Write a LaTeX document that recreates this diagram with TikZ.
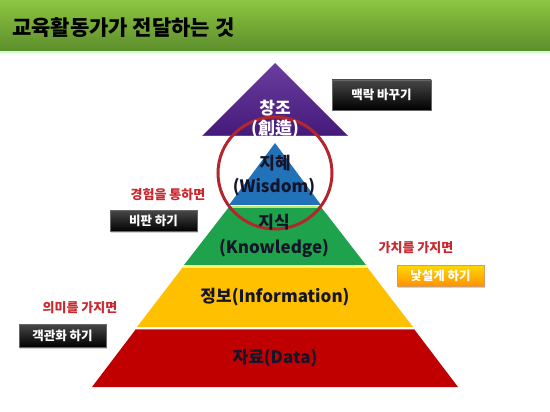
\documentclass[tikz,border=0pt]{standalone}
\usepackage{fontspec}
\setmainfont{Noto Sans CJK KR}
\usetikzlibrary{shadows}

\definecolor{headtop}{HTML}{8CC63F}
\definecolor{headbot}{HTML}{5C8E2D}
\definecolor{creapurple}{HTML}{45197A}
\definecolor{crealight}{HTML}{6A3E9E}
\definecolor{wisblue}{HTML}{2272BA}
\definecolor{knowgreen}{HTML}{1EA24C}
\definecolor{infoyellow}{HTML}{FFC000}
\definecolor{datared}{HTML}{C00000}
\definecolor{ringred}{HTML}{B3262B}
\definecolor{notered}{HTML}{C8282E}
\definecolor{darktext}{HTML}{15152A}

\tikzset{
  layertext/.style={font=\fontsize{17}{17}\selectfont\bfseries, text=darktext, inner sep=0pt},
  note/.style={font=\fontsize{13}{13}\selectfont\bfseries, text=notered, inner sep=0pt},
  blackbox/.style={font=\fontsize{12.5}{12.5}\selectfont\bfseries, text=white,
    top color=black!72, bottom color=black, draw=black!60, line width=0.4pt,
    minimum width=87pt, minimum height=21pt, inner sep=0pt,
    drop shadow={opacity=0.35, shadow xshift=1.2pt, shadow yshift=-1.5pt}},
  goldbox/.style={blackbox, top color=yellow!70!orange, bottom color=orange!85!yellow,
    draw=orange!70!black!60, text=white}
}

\begin{document}
\begin{tikzpicture}[x=1pt,y=-1pt]
\useasboundingbox (0,0) rectangle (550,412);

% header bar
\shade[top color=headtop, bottom color=headbot] (0,0) rectangle (550,51);
\fill[green!20!white] (0,51) rectangle (550,53);
\node[anchor=west, inner sep=0pt, font=\fontsize{21}{21}\selectfont\bfseries] (title) at (12,28) {교육활동가가 전달하는 것};

% pyramid
\shade[top color=crealight, bottom color=creapurple] (275,63) -- (348,136) -- (202,136) -- cycle;
\draw[crealight, line width=1.2pt] (203,135.5) -- (347,135.5);
\fill[wisblue] (275,143) -- (321,205) -- (229,205) -- cycle;
\fill[knowgreen] (229,207) -- (321,207) -- (366,265) -- (184,265) -- cycle;
\draw[yellow!60!green!60, line width=1.4pt] (229,207) -- (321,207);
\fill[infoyellow] (183,267) -- (367,267) -- (413,327) -- (137,327) -- cycle;
\draw[yellow!60, line width=1.4pt] (183,267) -- (367,267);
\fill[datared] (136,329) -- (414,329) -- (458,387) -- (92,387) -- cycle;
\draw[red!70!orange!80, line width=1.4pt] (136,329.5) -- (414,329.5);

% ring round the wisdom
\draw[ringred, line width=3pt] (275,173) ellipse [x radius=57, y radius=56];

% layer texts
\node[layertext, text=white] (crea) at (275,108) {창조};
\node[layertext, text=white] (creahanja) at (275,129) {(創造)};
\node[layertext] (wis) at (275,163) {지혜};
\node[layertext] (wisen) at (274,187) {(Wisdom)};
\node[layertext] (know) at (274,222) {지식};
\node[layertext] (knowen) at (274,248) {(Knowledge)};
\node[layertext] (info) at (275,297) {정보(Information)};
\node[layertext] (data) at (275,358) {자료(Data)};

% side notes
\node[note] (expnote) at (168,195) {경험을 통하면};
\node[note] (meannote) at (80,308) {의미를 가지면};
\node[note] (valnote) at (416,248) {가치를 가지면};

\node[blackbox, minimum width=99pt, minimum height=30pt] (ctxbox) at (381.5,95) {맥락 바꾸기};
\node[blackbox] (critbox) at (153.5,221) {비판 하기};
\node[blackbox, minimum height=23pt] (objbox) at (62.5,335.5) {객관화 하기};
\node[goldbox] (strbox) at (440.5,275.5) {낯설게 하기};
\end{tikzpicture}
\end{document}
